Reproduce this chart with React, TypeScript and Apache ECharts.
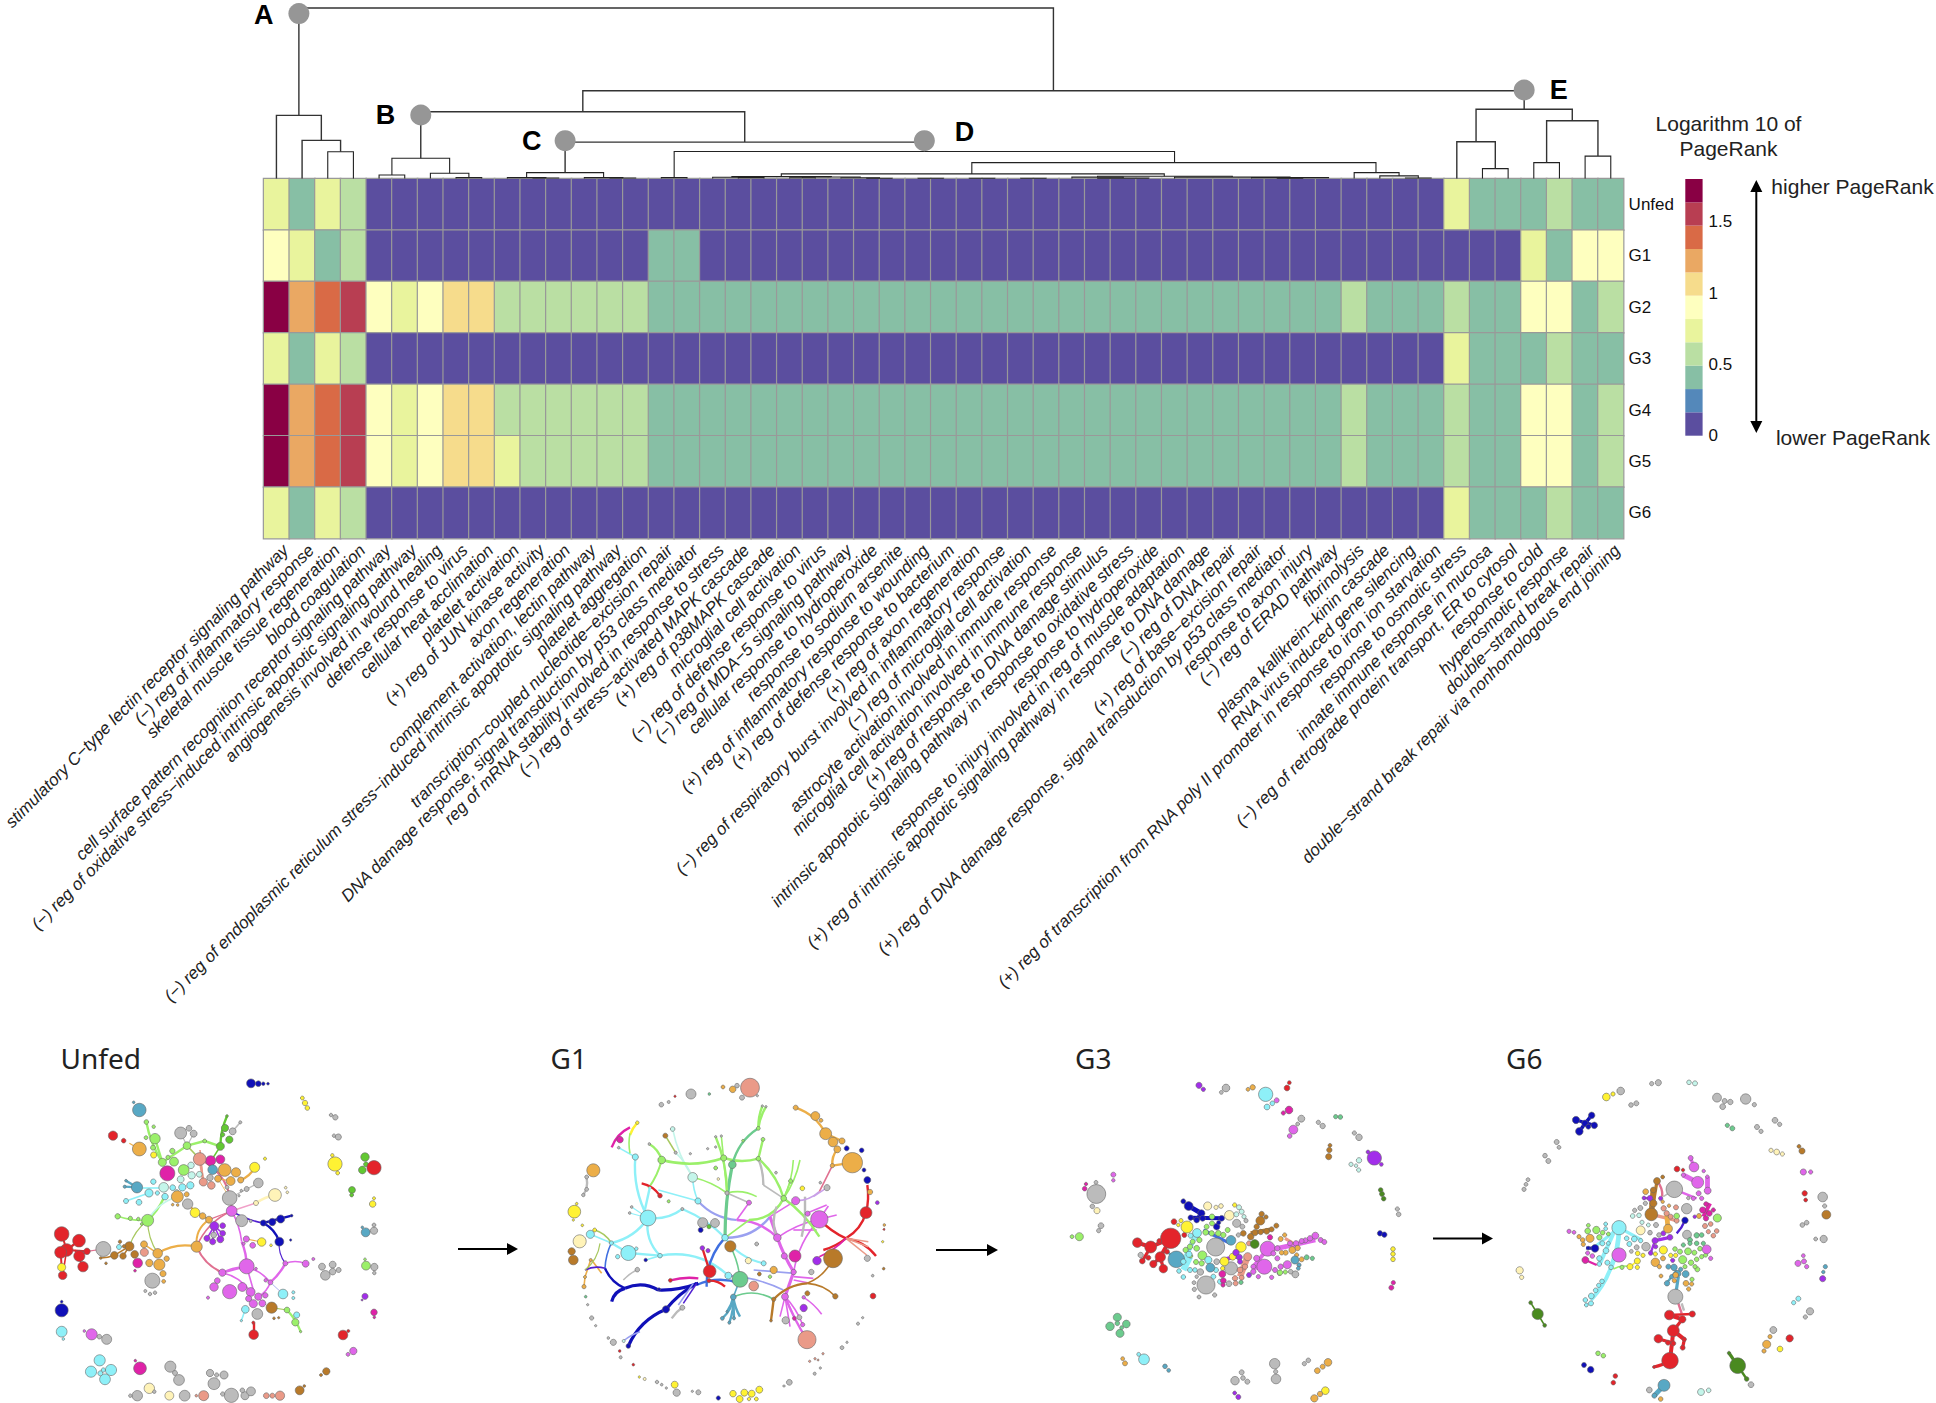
import React, { useEffect, useRef } from "react";
import * as echarts from "echarts";

const rowNames = ["Unfed", "G1", "G2", "G3", "G4", "G5", "G6"];
const termNames = [
  "stimulatory C−type lectin receptor signaling pathway",
  "(−) reg of inflammatory response",
  "skeletal muscle tissue regeneration",
  "blood coagulation",
  "cell surface pattern recognition receptor signaling pathway",
  "(−) reg of oxidative stress−induced intrinsic apoptotic signaling pathway",
  "angiogenesis involved in wound healing",
  "defense response to virus",
  "cellular heat acclimation",
  "platelet activation",
  "(+) reg of JUN kinase activity",
  "axon regeneration",
  "complement activation, lectin pathway",
  "(−) reg of endoplasmic reticulum stress−induced intrinsic apoptotic signaling pathway",
  "platelet aggregation",
  "transcription−coupled nucleotide−excision repair",
  "DNA damage response, signal transduction by p53 class mediator",
  "reg of mRNA stability involved in response to stress",
  "(−) reg of stress−activated MAPK cascade",
  "(+) reg of p38MAPK cascade",
  "microglial cell activation",
  "(−) reg of defense response to virus",
  "(−) reg of MDA−5 signaling pathway",
  "cellular response to hydroperoxide",
  "response to sodium arsenite",
  "(+) reg of inflammatory response to wounding",
  "(+) reg of defense response to bacterium",
  "(+) reg of axon regeneration",
  "(−) reg of respiratory burst involved in inflammatory response",
  "(−) reg of microglial cell activation",
  "astrocyte activation involved in immune response",
  "microglial cell activation involved in immune response",
  "(+) reg of response to DNA damage stimulus",
  "intrinsic apoptotic signaling pathway in response to oxidative stress",
  "response to hydroperoxide",
  "response to injury involved in reg of muscle adaptation",
  "(+) reg of intrinsic apoptotic signaling pathway in response to DNA damage",
  "(−) reg of DNA repair",
  "(+) reg of base−excision repair",
  "(+) reg of DNA damage response, signal transduction by p53 class mediator",
  "response to axon injury",
  "(−) reg of ERAD pathway",
  "fibrinolysis",
  "plasma kallikrein−kinin cascade",
  "RNA virus induced gene silencing",
  "(+) reg of transcription from RNA poly II promoter in response to iron ion starvation",
  "response to osmotic stress",
  "innate immune response in mucosa",
  "(−) reg of retrograde protein transport, ER to cytosol",
  "response to cold",
  "hyperosmotic response",
  "double−strand break repair",
  "double−strand break repair via nonhomologous end joining",
];

// heatmap values: log10 PageRank, read to the legend band of each cell
const a = 0.08, t = 0.41, l = 0.57, y = 0.74, p = 0.9, s = 1.06, o = 1.23, d = 1.39, h = 1.55, m = 1.72;
const rowUnfed = [y,t,y,l, a,a,a,a,a,a,a,a,a,a,a,a,a,a,a,a,a,a,a,a,a,a,a,a,a,a,a,a,a,a,a,a,a,a,a,a,a,a,a,a,a,a, y,t,t,t,l,t,t];
const rowG1 = [p,y,t,l, a,a,a,a,a,a,a,a,a,a,a, t,t, a,a,a,a,a,a,a,a,a,a,a,a,a,a,a,a,a,a,a,a,a,a,a,a,a,a,a,a,a,a,a,a, y,t,p,p];
const rowG2 = [m,o,d,h, p,y,p,s,s, l,l,l,l,l,l, t,t,t,t,t,t,t,t,t,t,t,t,t,t,t,t,t,t,t,t,t,t,t,t,t,t,t, l, t,t,t, l, t,t, p,p,t,l];
const rowG3 = [y,t,y,l, a,a,a,a,a,a,a,a,a,a,a,a,a,a,a,a,a,a,a,a,a,a,a,a,a,a,a,a,a,a,a,a,a,a,a,a,a,a,a,a,a,a, y,t,t,t,l,t,t];
const rowG4 = [m,o,d,h, p,y,p,s,s, l,l,l,l,l,l, t,t,t,t,t,t,t,t,t,t,t,t,t,t,t,t,t,t,t,t,t,t,t,t,t,t,t, l, t,t,t, l, t,t, p,p,t,l];
const rowG5 = [m,o,d,h, p,y,p,s,s, y,l,l,l,l,l, t,t,t,t,t,t,t,t,t,t,t,t,t,t,t,t,t,t,t,t,t,t,t,t,t,t,t, l, t,t,t, l, t,t, p,p,t,l];
const rowG6 = [y,t,y,l, a,a,a,a,a,a,a,a,a,a,a,a,a,a,a,a,a,a,a,a,a,a,a,a,a,a,a,a,a,a,a,a,a,a,a,a,a,a,a,a,a,a, y,t,t,t,l,t,t];
const heatRows = [rowUnfed, rowG1, rowG2, rowG3, rowG4, rowG5, rowG6];

const bandColors = ["#5B4E9F", "#5488BA", "#87BFA5", "#BADFA3", "#E9F49D", "#FEFFBF", "#F6DC8C", "#EAA863", "#D96A46", "#B83E52", "#890044"];
const bandEdges = [0, 0.164, 0.327, 0.491, 0.655, 0.818, 0.982, 1.145, 1.309, 1.473, 1.636, 1.8];
const barTicks = [0, 0.5, 1, 1.5];

// dendrogram merges: left x, left height, right x, right height, merge height
const mergesA = [[2.5,0,3.5,0,26.8],[1.5,0,3,26.8,38.2],[0.5,0,2.25,38.2,63.2]];
const mergesB = [[4.5,0,5.5,0,3.6],[7.5,0,8.5,0,1],[6.5,0,8,1,5.4],[5,3.6,7.25,5.4,20.4]];
const mergesC = [[10.5,0,11.5,0,0.6],[13.5,0,14.5,0,0.6],[12.5,0,14,0.6,1],[9.5,0,11,0.6,1],[10.25,1,13.25,1,6]];
const mergesD = [
  [15.5,0,16.5,0,1],[18.5,0,19.5,0,1],[17.5,0,19,1,1.4],[20.5,0,21.5,0,0.8],[23.5,0,24.5,0,0.4],[22.5,0,24,0.4,0.8],
  [21,0.8,23.25,0.8,1.6],[18.25,1.4,22.125,1.6,2],[25.5,0,26.5,0,0.3],[27.5,0,28.5,0,0.3],[29.5,0,30.5,0,0.3],[31.5,0,33.5,0.5,1.5],
  [32.5,0,34.5,0,0.5],[35.5,0,40,1,1.5],[38.5,0,41.5,0.4,1],[39.5,0,40.5,0,0.4],[32.5,1.5,37.75,1.5,2.4],
  [44.5,0,45.5,0,0.6],[43.5,0,45,0.6,2.7],[42.5,0,44.25,2.7,6],[20.175,2,35.1,2.4,4.7],[27.6,4.7,43.35,6,16],[16,1,35.5,16,27.1],
];
const mergesE = [[47.5,0,48.5,0,10],[46.5,0,48,10,36.8],[49.5,0,50.5,0,16],[51.5,0,52.5,0,22.5],[50,16,52,22.5,57.9],[47.25,36.8,51,57.9,69.3]];
const mergesTop = [[11.75,6,25.75,27.1,36.5],[6.125,20.4,18.75,36.5,66.8],[12.44,66.8,49.125,69.3,87.9],[1.375,63.2,30.78,87.9,170.6]];
const clusterNames = ["A", "B", "C", "D", "E"];
const clusterX = [1.375, 6.125, 11.75, 25.75, 49.125];
const clusterH = [165, 63.6, 37.9, 37.9, 88.6];

const nodeColors: Record<string, string> = {
  r: "#E3242B", b: "#1010B8", c: "#8EF0F8", g: "#9BF06A", m: "#E066EA", p: "#DF22A8", v: "#A22EEA", o: "#ECAE48",
  n: "#B87A2A", s: "#EA9A88", y: "#FFF233", k: "#BBBBBB", t: "#58A8C4", l: "#62C832", e: "#6CCB8E", q: "#C4F5EA",
  w: "#FFF3B8", d: "#4A8A20", i: "#E07090", h: "#9AA0F0", u: "#3F6FE0", z: "#A8C860", j: "#5020D0", x: "#C9A0E8", f: "#F0A0C8",
};

type N = [string, number, number, number];
type E = [string, number, number, number, number, number, number];

const unfedNodes: N[] = [
["b",633,40,22],["b",655,41,14],["b",670,41,8],["b",684,41,6],["y",787,84,9],["y",795,99,13],["y",802,114,11],["k",873,135,8],["k",886,142,13],["k",882,197,8],["k",895,201,15],
["y",885,282,36],["y",877,256,8],["y",893,309,9],["l",975,261,21],["l",967,300,19],["l",978,283,12],["r",1002,293,36],["l",936,360,17],["l",935,375,9],["y",998,402,16],["y",1002,385,7],
["t",977,487,22],["t",967,472,6],["k",1002,482,18],["k",1002,465,9],["g",978,587,22],["g",975,568,6],["k",1003,591,18],["k",1003,609,8],["v",975,679,15],["v",966,690,4],["p",1002,727,16],["p",1003,742,6],
["r",909,795,24],["r",925,783,7],["m",940,843,18],["m",924,853,9],["n",859,904,18],["n",843,915,7],["n",779,961,22],["n",793,948,6],["s",720,977,23],["s",697,977,12],["s",679,977,14],
["k",574,976,36],["k",615,977,20],["k",633,964,22],["k",607,961,11],["k",548,972,10],["s",491,977,25],["s",469,977,6],["k",434,977,27],["w",388,977,22],["k",292,977,26],["k",271,977,8],["w",328,955,26],["k",343,965,8],
["k",522,941,30],["k",510,909,18],["k",530,915,10],["k",552,915,20],["k",391,890,28],["k",405,909,12],["k",417,930,27],["p",300,895,32],["p",286,872,6],
["c",179,871,28],["c",153,905,28],["c",213,900,28],["c",195,928,27],["c",181,910,12],["c",190,900,10],["k",200,808,25],["k",178,800,11],["m",155,793,28],["m",133,783,6],["c",65,785,27],["c",70,807,6],["b",65,721,33],["b",65,695,6],
["r",65,492,37],["r",117,512,32],["r",80,540,32],["r",62,547,30],["r",118,558,28],["r",129,590,26],["r",68,616,21],["r",141,544,16],["y",65,592,20],["k",190,537,38],["c",237,531,12],
["n",268,529,23],["n",223,556,19],["n",284,553,19],["n",249,558,16],["n",240,515,8],["n",252,529,8],["n",198,580,6],["n",182,564,6],["s",313,547,20],["p",293,579,24],["p",285,602,6],
["o",312,523,17],["o",353,550,24],["o",328,579,18],["o",358,584,28],["o",380,566,13],["o",369,611,15],["o",371,634,9],["k",337,632,38],["k",345,668,8],["k",330,672,8],["k",316,663,7],
["g",323,451,30],["g",233,439,13],["g",271,445,10],["g",295,447,8],["g",305,462,6],["c",258,393,12],["c",297,397,14],["c",327,369,20],["c",352,369,10],["c",375,380,16],["c",340,335,13],["c",398,353,14],["c",427,352,18],["c",451,346,18],
["t",291,352,28],["t",258,332,6],["t",254,350,7],["q",371,352,24],["q",422,328,17],["q",455,316,18],["q",453,286,16],["q",478,313,14],["q",410,365,10],["o",412,380,30],["o",440,373,12],["o",398,404,6],["o",413,405,6],
["k",443,402,26],["y",465,428,24],["o",488,438,16],["o",507,449,17],["o",470,530,28],["v",523,468,22],["v",548,467,14],["v",548,490,14],["v",501,505,15],["v",518,515,15],["v",541,508,17],["k",521,495,14],
["m",575,423,27],["k",605,452,30],["k",632,453,7],["y",665,516,21],["y",693,526,6],["m",619,507,15],["m",611,521,7],["m",638,526,14],["m",620,589,38],["m",648,596,6],["m",547,608,18],["m",532,632,14],["m",522,651,21],["m",504,683,7],["m",569,665,36],["m",607,651,22],["m",632,666,22],["m",655,680,18],["m",676,676,13],["m",691,637,12],["m",677,631,8],["m",626,686,15],["m",640,701,20],["m",667,700,17],["m",736,580,12],["m",797,581,17],["m",820,567,7],
["k",846,590,17],["k",856,616,24],["k",878,584,17],["k",878,605,16],["k",896,600,12],["b",718,515,22],["b",752,510,5],["b",670,459,15],["b",697,456,18],["b",722,447,20],["b",755,437,6],["n",695,713,28],["n",702,745,6],["n",716,743,5],
["c",729,672,24],["c",760,667,7],["c",760,684,7],["c",616,718,19],["c",604,752,5],["g",741,720,14],["c",770,735,15],["g",766,757,18],["g",782,785,5],["k",652,732,27],["r",641,794,24],["r",640,758,7],
["o",572,333,22],["o",554,300,32],["o",588,307,23],["o",534,326,17],["o",602,330,15],["k",569,384,37],["k",655,339,24],["k",620,357,12],["k",604,362,6],["k",597,377,5],["k",561,352,9],["w",705,375,32],["w",648,399,12],["w",737,353,6],["w",742,367,6],["y",644,292,25],["y",675,266,7],
["l",541,229,20],["l",568,209,18],["l",555,174,18],["l",561,138,6],["l",548,194,10],["k",578,184,17],["k",601,157,7],["k",422,189,30],["k",447,175,14],["k",461,191,17],["g",441,227,19],["g",367,277,20],["g",402,275,22],["g",431,300,27],["g",397,243,13],["g",384,262,10],["g",494,213,9],["g",345,206,26],["g",318,203,9],["g",341,170,8],["g",339,233,12],["y",341,255,15],
["t",298,120,34],["t",281,97,6],["g",319,156,11],["o",298,237,35],["r",219,197,23],["r",251,212,11],["p",382,310,38],["p",512,272,25],["p",541,268,22],["s",479,267,32],["t",518,299,24],["s",490,336,20],["s",514,346,19],["k",510,323,16],
];
const unfedEdges: E[] = [
["r",65,492,80,540,0,2.5],["r",117,512,80,540,0,3],["r",80,540,141,544,0,2.5],["r",62,547,65,592,0,2.5],["r",80,540,68,616,0,2],["r",118,558,141,544,0,2.5],["r",129,590,105,540,0,2],["i",141,544,190,537,0,1.5],
["n",223,556,182,564,0.1,2],["n",223,556,268,529,0,2],["n",249,558,268,529,0,2],["o",353,550,312,523,0,2],["z",268,529,323,451,0.15,1.5],["z",353,550,323,451,0.15,1.5],["o",353,550,470,530,0.2,3],["o",470,530,507,449,0.3,2.5],["o",507,449,443,402,0.1,2.5],
["i",470,530,575,423,0.2,2],["i",470,530,547,608,-0.2,2.5],["i",479,267,575,423,0.3,2.5],["i",575,423,507,449,0,1.5],["f",575,423,648,399,0,2],["w",648,399,705,375,0.1,3],["j",575,423,670,459,-0.1,2],["b",670,459,718,515,0.2,3],["j",718,515,736,580,-0.2,1.5],["b",670,459,755,437,0,3],
["m",575,423,605,515,0.1,2],["m",620,589,605,515,-0.1,3],["m",620,589,547,608,0,2.5],["m",620,589,640,660,0,2],["m",547,608,632,666,0.2,2],["m",547,608,691,637,0.4,2],["m",736,580,691,637,0.1,3],["m",736,580,797,581,0.2,2],["m",691,637,655,680,0.2,2],["h",691,637,729,672,0,1],["g",741,720,782,785,0.1,3],["z",695,713,741,720,0,1.5],
["g",323,451,371,385,-0.1,3],["g",323,451,233,439,0.1,2],["q",323,451,412,380,0.2,2],["c",291,352,371,352,0,2],["c",258,393,327,369,0,2],["g",367,277,319,156,0.1,3],["g",367,277,345,206,0,3],["g",441,227,494,213,0,3],["g",494,213,541,229,0,3],["g",441,227,367,277,0,3],["l",541,229,561,138,0.1,3],["l",541,229,518,265,0,2],
["k",422,189,441,227,0,1.5],["k",461,191,441,227,0,1.5],["k",578,184,601,157,0,2],["o",644,292,602,330,0.2,3],["o",572,333,534,326,0,1.5],["o",298,237,268,220,0,1.5],["s",479,267,490,336,0,3],["z",441,227,479,267,0,2],["s",490,336,480,240,0,2],["k",569,384,655,339,0,1.5],["o",569,384,534,326,0,1],
["o",619,507,665,516,0,1.5],["r",640,758,641,794,0,3],["c",616,718,604,752,0,2],["t",258,332,291,352,0,3],["t",254,350,291,352,0,3],["v",523,468,501,505,0,2],["v",523,468,548,490,0,2],["v",523,468,518,515,0,2],["v",523,468,541,508,0,2],
];

const g1Nodes: N[] = [
["s",600,53,48],["o",548,58,16],["o",519,51,9],["k",561,47,11],["k",576,83,12],["k",622,77,5],["k",423,72,25],["e",478,72,6],["k",334,104,11],["k",356,96,7],["r",375,79,5],
["o",737,113,12],["o",796,138,22],["o",813,151,9],["o",827,191,30],["o",849,216,24],["o",876,213,15],["o",862,238,17],["o",907,278,52],["o",847,287,10],["b",890,235,12],["b",935,241,11],["b",942,300,9],["b",952,330,17],["o",960,366,13],
["r",948,428,30],["v",982,398,9],["o",1003,465,6],["r",1002,478,4],["y",998,515,5],["n",1001,596,6],["k",952,565,15],["k",968,617,6],["r",969,678,14],["k",924,761,7],["k",938,743,5],["k",876,833,9],["k",891,817,5],["k",794,911,7],["k",811,894,5],["k",718,937,14],["k",702,948,5],
["y",628,959,17],["y",605,971,17],["y",583,968,17],["y",549,971,16],["y",569,987,17],["y",597,987,8],["y",619,987,9],["b",505,984,10],["k",445,967,12],["k",427,964,5],["y",374,944,17],["k",380,968,18],["k",321,936,8],["k",335,944,6],["k",349,954,5],["y",268,921,5],["w",284,927,7],
["r",250,884,6],["k",212,862,7],["r",209,843,6],["k",190,817,15],["k",175,804,6],["k",125,744,10],["k",137,767,5],["e",107,680,6],["k",113,704,5],["o",130,301,33],["k",110,321,9],["k",100,375,8],["k",110,358,9],["y",73,425,32],["y",80,401,6],["y",70,450,5],
["c",121,493,20],["y",134,480,9],["y",97,466,6],["w",89,514,33],["n",65,544,18],["n",70,570,24],["o",102,650,10],["o",105,621,7],["o",122,570,7],["c",184,519,10],["c",235,549,38],["c",203,560,10],["c",259,536,8],["c",330,557,11],["b",287,570,8],["k",262,599,11],
["c",294,444,40],["k",245,411,6],["k",239,429,6],["c",256,261,15],["k",206,233,6],["p",210,209,16],["y",262,158,8],["r",330,377,11],["g",335,270,19],["k",298,222,6],["n",346,197,12],["q",368,177,11],["k",377,248,7],["q",428,322,24],["c",444,393,15],["g",356,394,7],["k",397,417,7],["k",421,251,5],
["g",521,264,15],["k",497,231,5],["e",547,284,19],["k",473,236,5],["k",514,198,5],["k",497,200,5],["g",497,294,9],["w",505,327,6],["g",579,212,6],["g",625,175,9],["k",637,108,5],["k",648,110,5],["g",639,208,9],["g",625,266,11],["k",531,369,10],
["m",597,398,12],["k",458,458,25],["k",495,459,22],["l",477,470,10],["b",452,480,12],["c",525,503,16],["n",541,529,28],["k",620,522,9],["v",457,534,11],["v",474,542,10],["r",479,604,32],["c",535,617,17],["e",570,628,40],["s",611,648,24],["t",550,681,14],["w",595,572,15],["c",641,580,12],["o",671,600,18],["n",628,612,9],["g",660,620,8],
["r",361,631,9],["r",477,632,10],["b",327,658,7],["b",348,718,18],["b",235,828,11],["q",221,813,7],["k",397,713,12],["t",517,745,9],["t",538,758,7],["t",552,745,7],["t",531,725,5],
["m",737,392,20],["g",701,385,14],["y",757,355,11],["k",831,353,15],["k",811,338,6],["m",808,448,44],["m",773,431,12],["m",682,503,19],["p",735,558,30],["m",703,558,15],["m",731,606,13],["v",801,572,21],["n",849,565,48],["k",784,606,13],["g",722,333,10],["k",678,308,6],
["m",705,680,17],["v",761,714,18],["k",707,751,18],["p",733,745,9],["m",758,764,10],["s",771,809,46],["n",856,679,13],["n",772,670,12],["n",671,688,10],["m",761,682,8],["k",748,742,12],["s",779,874,5],["s",795,866,5],["s",819,851,5],["s",804,870,4],["n",663,752,6],
];
const g1Edges: E[] = [
["c",294,444,184,519,0.2,3],["c",294,444,330,557,-0.25,3],["c",294,444,256,261,0.15,3],["c",294,444,397,417,-0.2,3],["c",397,417,525,503,0.1,3],["c",256,261,206,233,0,2],["c",294,444,245,411,0,1.5],["c",294,444,239,429,0,1.5],
["c",184,519,235,549,0,3],["c",235,549,330,557,0,3],["c",330,557,535,617,0.25,3],["c",525,503,641,580,-0.2,2.5],["c",444,393,428,322,0.1,2],["c",325,360,444,393,0,2],["q",368,177,428,322,-0.1,2],["q",377,248,428,322,0.1,2],
["h",444,393,560,450,-0.2,2.5],["h",525,503,660,440,-0.25,3],["h",611,600,735,610,0,2],["h",535,617,700,660,0.1,2],
["m",560,450,682,503,0.2,3],["m",597,398,560,450,0,2],["m",682,503,731,606,-0.05,4],["m",731,606,705,680,0,4],["m",731,606,808,448,0.15,2],["m",660,440,682,503,0,4],["m",682,503,808,448,0.1,2],["m",737,392,660,440,0,2],["m",705,680,771,809,-0.05,3],["m",705,680,758,764,0.1,2],["m",705,680,690,740,0,2],["m",705,680,720,770,0,2],["m",705,680,735,745,0,2],["m",761,682,815,733,0.1,2],["m",731,620,790,625,0,2],["m",731,630,780,640,0,2],["m",808,448,860,435,0,2],["m",808,448,835,408,0,2],["m",770,430,830,405,0,2],["m",730,480,800,480,0,2],
["g",335,270,521,264,-0.15,3],["g",298,222,335,270,0.2,3],["g",335,270,295,355,0.1,2.5],["g",428,322,531,369,0.1,2],["g",625,266,521,264,0.15,3],["e",547,284,625,175,0.2,3],["g",625,175,637,108,0.1,3],["g",625,175,648,110,0.1,3],["g",639,208,625,266,0,3],["e",547,284,525,503,-0.05,4],["g",497,200,531,369,0.1,3],["g",514,198,531,369,0,2],["g",625,266,701,385,0.15,3],["g",701,385,808,500,0.1,3],["g",701,385,597,450,0.3,3],["g",597,450,530,500,0,2],["g",722,333,701,385,0,2],["g",750,270,701,385,0.1,2],["g",730,270,701,385,0.1,2],
["k",625,266,640,345,0.1,3],["k",640,345,701,385,0,2],["k",680,410,680,500,-0.2,3],["k",765,450,755,500,0,3],["k",765,380,765,450,0,3],["g",531,369,620,380,0.2,2],["k",531,369,597,398,0,2],
["o",737,113,827,191,0.2,3],["o",827,191,876,213,0,3],["o",907,278,847,287,0,3],["o",847,287,862,238,0.2,3],["i",847,287,808,365,0,2],["x",808,365,737,392,0.2,2],["x",831,353,790,380,0,2],
["r",948,428,888,505,0.2,3],["r",888,505,808,448,0.1,3],["r",952,345,948,428,0.1,3],["r",888,505,978,558,0.2,3],["r",888,505,820,540,0.1,3],["s",888,505,950,555,0,2],["s",888,505,955,530,0,2],["s",888,505,955,515,0,2],["p",888,505,808,560,0.1,2],
["n",849,565,772,640,0.2,2],["n",671,688,772,640,0.2,3],["n",772,640,856,679,0.2,2],["n",671,688,663,752,0,3],["t",550,681,517,745,0.2,3],["t",550,681,538,758,0.1,3],["t",550,681,552,745,0,3],["t",550,681,531,725,0.1,3],["t",550,681,570,740,-0.1,3],["e",550,681,671,688,0.25,2],["t",550,681,570,628,0,2],["e",541,529,570,628,0.1,2],
["u",525,503,470,650,-0.2,3],["u",440,645,570,640,0.2,3],["r",479,604,457,534,0,3],["r",477,632,525,650,0.2,3],["p",361,631,445,625,0.1,3],["b",165,595,225,655,-0.2,3],["b",185,695,225,655,0.3,4],["b",225,655,325,660,0.25,4],["b",325,660,445,640,-0.1,4],["b",235,828,348,718,0.2,4],["b",348,718,440,640,0.1,4],
["h",220,813,270,785,0.1,2],["h",385,705,430,640,0,2],["j",400,700,440,640,0,2],["k",365,745,400,710,0.1,3],["c",121,493,184,519,0,2],["z",134,480,184,519,0.2,2],["u",165,595,184,519,0.1,2],["o",122,570,105,621,0,2],["o",105,621,102,650,0,2],["o",125,570,155,610,0,2],["j",105,600,165,595,0.2,2],["z",105,600,150,520,-0.2,1.5],
["k",220,630,262,599,0.1,2],["c",287,570,330,557,0,2],["p",185,232,240,172,0.2,3],["y",240,195,262,158,0.1,3],["g",240,250,240,190,0.1,2],["r",275,340,330,377,0.2,3],["c",300,350,280,440,0,3],["z",346,197,377,248,0,2],["k",110,325,100,375,0.2,3],
];

const g3Nodes: N[] = [
["v",477,46,15],["v",490,58,10],["k",558,54,19],["k",544,67,9],["o",638,52,13],["o",624,58,9],["c",677,73,36],["m",710,91,12],["c",697,100,11],["c",681,111,14],["r",748,38,9],["r",741,54,14],["p",747,120,19],["p",730,129,10],["e",887,140,10],["e",901,141,11],["k",784,146,17],["k",773,162,9],["m",760,179,22],["m",749,198,11],["k",835,157,10],["k",848,168,13],["k",943,189,10],["k",957,202,16],
["n",870,226,9],["n",868,240,13],["n",866,260,15],["v",1003,264,36],["v",984,246,9],["v",1024,283,9],["q",957,271,13],["q",933,283,10],["q",948,287,8],["q",956,300,10],["d",1022,360,11],["d",1026,372,12],["d",1031,386,11],["k",1072,417,10],["k",1076,433,11],["b",1020,490,13],["b",1033,494,13],["y",1059,537,11],["y",1059,552,11],["y",1059,568,11],["p",1060,638,10],["p",1054,653,12],
["m",220,314,12],["m",220,331,8],["p",138,342,8],["p",134,356,11],["k",168,337,9],["k",169,372,48],["k",157,409,11],["w",171,422,15],["k",183,467,14],["k",176,482,10],["g",118,500,20],["g",96,500,9],["e",232,742,20],["e",210,769,21],["e",259,762,19],["e",240,790,20],["e",232,760,11],["e",245,773,9],
["o",248,866,9],["o",255,880,12],["c",312,868,27],["c",296,853,9],["t",375,889,11],["t",386,901,9],["k",585,932,21],["k",605,907,12],["k",609,924,11],["k",622,935,12],["k",704,881,26],["k",707,905,10],["k",708,927,24],["k",805,871,11],["k",793,881,10],["o",864,877,19],["o",848,890,12],["o",832,902,14],["y",856,962,19],["o",840,972,13],["o",823,985,18],["v",584,969,9],["v",595,981,12],
["r",392,505,52],["r",332,531,30],["r",292,518,24],["r",361,561,26],["r",307,573,14],["r",340,582,18],["r",370,596,21],["r",325,563,12],["r",358,513,12],["r",381,545,12],["r",402,455,14],["r",433,495,12],["t",409,568,42],["k",302,555,13],["y",441,471,30],["y",423,452,10],["y",415,465,8],
["b",430,394,12],["b",446,408,22],["b",452,443,13],["b",484,430,18],["b",470,450,14],["b",488,445,14],["b",545,445,14],["b",530,470,16],["b",536,458,10],["w",503,408,20],["w",568,436,24],["w",528,412,10],["w",543,408,11],["y",584,405,10],["q",597,412,12],["q",605,425,12],["q",612,440,10],["q",589,433,12],
["g",516,440,13],["g",500,470,12],["g",516,460,12],["g",497,487,14],["g",515,490,13],["g",535,490,14],["g",550,495,13],["g",563,480,12],["c",471,489,22],["c",452,497,12],["g",478,510,13],["g",458,515,12],["g",437,540,13],["g",450,530,13],["g",470,535,14],["g",487,556,22],["g",452,558,10],["g",468,576,12],["g",485,580,13],
["c",447,553,15],["c",430,575,13],["c",417,603,11],["c",430,621,11],["c",450,600,12],["c",465,600,11],["c",505,570,18],["c",528,600,12],["c",540,635,12],["c",520,620,12],["t",511,593,22],["t",573,511,24],["k",527,531,46],["k",573,595,33],["k",498,645,46],["k",462,638,9],["k",463,658,10],["k",477,681,9],["k",524,675,10],["k",481,606,16],["k",470,620,8],["k",530,575,14],
["k",590,460,20],["k",607,470,12],["k",618,452,10],["k",595,495,10],["y",603,531,26],["y",578,560,17],["y",553,574,22],["y",548,595,10],["v",588,548,16],["v",598,562,15],["v",600,575,12],["v",627,615,12],["s",623,560,20],["s",627,520,12],["s",615,590,13],["s",600,600,14],["s",605,623,12],["s",585,625,13],["s",587,640,12],["p",547,612,17],["p",550,632,14],["p",549,645,10],["k",567,641,14],["e",603,637,10],
["d",644,522,22],["n",661,452,22],["n",665,432,13],["n",678,441,10],["n",650,470,13],["n",632,500,16],["n",610,490,14],["n",645,488,15],["n",662,486,13],["n",680,484,14],["n",695,478,12],["n",709,467,12],["o",722,507,12],["o",734,495,10],["p",690,502,13],
["m",683,536,38],["m",673,590,38],["m",826,497,17],["m",810,505,13],["m",842,510,12],["m",853,516,12],["m",796,511,12],["m",785,513,12],["m",768,520,13],["m",750,520,12],["m",712,535,13],["m",700,550,12],["m",650,565,15],["m",640,590,12],["m",640,605,13],["m",655,620,10],["m",695,622,10],["m",712,565,12],["m",722,590,13],["m",705,600,12],["m",718,610,10],["m",742,584,20],
["o",757,540,17],["o",773,534,13],["o",737,548,12],["o",725,548,11],["o",785,568,12],["o",770,555,10],["t",765,570,20],["t",777,585,10],["t",775,595,9],["e",800,562,12],["e",817,565,10],["g",720,608,13],["g",736,606,10],["k",766,613,17],["k",752,605,11],
];
const g3Edges: E[] = [
["r",392,505,332,531,0,5],["r",332,531,292,518,0,5],["r",332,531,307,573,0,4],["r",392,505,361,561,0,5],["r",361,561,340,582,0,4],["r",361,561,370,596,0,4],["t",381,545,409,568,0,3],["u",490,480,570,520,0,4],["b",446,408,484,430,0,6],["b",484,430,470,450,0,5],["b",452,443,545,445,0,5],
["m",683,536,640,590,0,5],["m",673,590,640,590,0,7],["m",712,535,826,510,0,6],["s",735,505,760,520,0,4],["c",470,490,430,575,0,6],["c",430,600,450,560,0,8],["v",590,560,545,570,0,5],["n",632,490,695,478,0,5],["s",623,560,600,620,0,8],
];

const g6Nodes: N[] = [
["k",455,41,10],["k",475,38,15],["q",567,37,11],["q",585,40,12],["y",319,81,19],["y",339,72,10],["k",362,63,19],["k",393,105,11],["k",409,100,12],["k",651,83,22],["k",674,93,12],["k",691,96,13],["k",668,110,14],["k",737,87,26],["k",763,104,10],["e",682,166,10],["e",697,175,12],["k",825,151,14],["k",839,163,10],["k",771,171,12],["k",783,184,10],["w",813,241,10],["w",830,246,14],["w",847,252,10],["n",897,229,9],["n",906,243,15],
["b",275,136,16],["b",228,150,18],["b",238,184,19],["b",283,166,16],["b",255,160,16],["b",265,170,12],["k",170,216,12],["k",177,232,9],["k",135,257,11],["k",145,273,12],["k",84,329,9],["k",78,343,9],["k",72,358,10],["m",910,306,15],["m",932,306,10],["r",914,370,13],["r",917,390,9],["k",968,381,24],["k",974,408,10],["n",979,434,22],["k",907,465,11],["k",920,458,11],["k",947,507,9],["k",971,507,18],
["m",910,557,9],["m",912,574,12],["m",894,580,15],["m",920,590,10],["t",976,590,10],["t",970,606,8],["v",968,626,15],["c",895,686,12],["c",881,698,10],["k",930,724,18],["k",916,741,10],["k",820,780,17],["o",810,800,10],["o",800,823,20],["o",792,843,10],["r",869,805,18],["y",840,837,14],["d",713,887,40],["d",687,849,8],["d",740,927,11],["k",753,944,14],
["q",603,966,17],["q",626,961,11],["t",492,946,30],["k",448,960,14],["t",463,977,12],["o",482,987,11],["r",346,918,11],["r",340,938,11],["b",252,885,12],["b",272,899,16],["g",294,850,11],["g",310,857,11],["d",113,732,28],["d",92,698,9],["d",134,766,9],["w",59,601,18],["w",65,622,10],
["k",526,680,38],["r",508,735,24],["r",547,748,18],["r",577,732,15],["r",520,782,30],["r",475,806,21],["r",504,818,12],["r",520,820,12],["r",548,833,12],["r",553,808,10],["r",510,872,42],["r",462,891,7],
["m",572,264,12],["m",582,291,24],["m",593,337,30],["m",623,362,17],["m",622,320,8],["m",611,303,8],["m",550,315,10],["r",531,297,14],["r",549,300,8],["k",523,358,42],["n",471,333,17],["n",488,321,9],["o",437,365,14],["n",460,360,14],["v",432,384,9],["v",450,385,14],["v",482,385,10],["n",454,433,32],["n",460,400,18],
["k",404,421,10],["k",421,414,12],["k",436,400,10],["q",398,438,11],["q",417,436,11],["q",426,457,10],["q",445,465,9],["c",357,473,36],["c",317,462,9],["c",317,476,9],["g",265,466,9],["g",263,483,14],["g",289,480,18],["g",308,488,11],["g",325,492,9],["m",207,484,10],["m",222,487,9],
["o",270,505,20],["o",248,510,11],["o",250,523,10],["g",298,502,13],["o",237,500,10],["b",285,535,19],["b",265,534,8],["c",307,520,12],["c",318,542,14],["c",325,520,9],["c",298,565,13],["c",298,582,11],["c",322,578,12],["c",333,592,11],["c",380,505,11],["c",403,507,14],["c",422,512,10],["c",388,522,12],["m",357,555,36],["m",263,549,10],["m",277,558,11],["p",256,570,17],["w",422,481,22],
["c",306,634,11],["c",296,646,10],["c",287,661,11],["c",274,678,14],["c",256,690,11],["c",273,700,12],["c",259,705,9],["g",366,592,10],["y",390,590,15],["y",412,573,15],["y",412,592,10],["y",429,556,10],["y",413,550,11],["k",438,530,21],["k",394,544,9],["k",410,532,12],
["v",465,512,15],["v",490,490,12],["v",510,502,14],["v",452,549,11],["v",467,530,10],["k",450,488,11],["k",477,495,11],["k",468,465,12],["y",490,540,20],["y",466,552,10],["y",512,556,10],["y",527,556,10],["k",561,494,22],["k",560,416,26],["s",491,415,13],["s",500,430,13],["s",528,412,12],["s",512,440,12],["s",530,452,12],["o",504,476,22],["o",507,407,8],["o",488,395,8],["g",530,438,14],["g",652,444,20],
["m",580,385,10],["m",596,370,12],["m",605,385,10],["k",565,384,8],["p",618,402,11],["p",608,420,15],["p",640,420,10],["p",628,430,14],["p",618,445,13],["b",555,451,16],["o",597,438,12],["v",584,440,8],["s",615,468,12],["s",632,462,11],["s",650,483,11],["s",640,497,11],["s",625,485,10],
["e",590,496,13],["e",605,495,11],["e",550,525,10],["e",570,510,12],["e",590,520,11],["e",610,520,10],["e",570,520,10],["g",564,544,17],["g",548,569,20],["g",583,548,12],["g",600,536,11],["g",525,537,11],["g",540,545,12],["g",573,578,13],["g",590,568,11],["g",605,560,10],["g",617,555,10],["g",592,598,12],["g",555,590,10],["g",585,590,10],["m",620,538,22],["m",632,565,10],["v",518,571,10],
["o",466,577,21],["o",489,565,12],["o",478,590,10],["o",483,618,9],["o",558,640,14],["o",575,642,10],["o",566,657,10],["t",505,590,12],["t",522,592,16],["t",557,612,17],["t",533,611,16],["t",515,620,10],["t",501,640,13],["t",542,598,10],["o",527,615,14],["o",523,632,10],["g",576,628,10],
];
const g6Edges: E[] = [
["c",357,473,333,592,0.1,6],["c",340,490,300,580,0,5],["c",357,473,425,510,0,4],["c",333,592,273,690,0.1,5],["g",340,597,390,590,0.2,2],["t",526,680,535,620,0,4],["i",535,700,545,730,0,3],["k",545,700,552,722,0,3],["r",508,735,547,748,0,5],["r",547,748,520,782,0,4],["r",520,782,510,872,0,5],["r",520,782,553,808,0,5],["r",553,808,548,833,0,4],["r",475,806,520,820,0,4],["r",510,872,462,891,0.1,4],["r",508,735,577,732,0,3],
["d",113,732,92,698,0,2],["d",113,732,134,766,0,2],["d",713,887,687,849,0,4],["d",713,887,740,927,0,3],["t",492,946,463,977,0,6],["m",582,291,572,264,0,4],["m",593,337,550,315,0,6],["m",623,362,622,320,0,6],["b",275,136,238,184,0,4],["b",228,150,283,166,0,4],["b",255,160,275,136,0,4],["b",238,184,255,160,0,4],["v",450,385,432,384,0,3],
["n",454,433,460,360,0,7],["n",471,333,460,400,0,4],["i",471,333,487,380,0.2,3],["k",523,358,490,380,0,2],["m",523,358,590,385,0,3],["j",555,451,530,490,0.1,3],["v",465,512,510,502,0,4],["v",465,512,452,549,0,3],["s",454,433,530,452,0,4],["o",500,430,504,476,0,6],["c",357,473,285,530,0,4],["p",256,570,290,585,0,3],["y",412,573,390,590,0,2],["p",630,400,610,440,0,5],["t",530,600,500,640,0,3],["b",258,534,285,535,0,4],
];

const panelTitles = ["Unfed", "G1", "G3", "G6"];
const F = "'Liberation Sans', Arial, sans-serif";
const panelBoxes = [[40, 360], [550, 360], [1040, 400], [1500, 360]];
const panelNodes = [unfedNodes, g1Nodes, g3Nodes, g6Nodes];
const panelEdges = [unfedEdges, g1Edges, g3Edges, g6Edges];

function arrow(x1: number, x2: number, yy: number) {
  return [
    { type: "line", shape: { x1, y1: yy, x2: x2 - 8, y2: yy }, style: { stroke: "#000", lineWidth: 2 } },
    { type: "polygon", shape: { points: [[x2 - 11, yy - 6], [x2, yy], [x2 - 11, yy + 6]] }, style: { fill: "#000" } },
  ];
}

function buildOption() {
  const grids: any[] = [
    { left: 263.6, top: 178.6, width: 1360, height: 360 },
    { left: 263.6, top: 0, width: 1360, height: 178.6 },
    { left: 1685.3, top: 179, width: 17.3, height: 256.7 },
    { left: 270.1, top: 178.6, width: 1360, height: 360 },
  ];
  const xAxes: any[] = [
    { type: "category", data: termNames, gridIndex: 0, axisLine: { show: false }, axisTick: { show: false }, splitLine: { show: false }, axisLabel: { show: false } },
    { type: "value", gridIndex: 1, min: 0, max: 53, show: false },
    { type: "category", data: ["bar"], gridIndex: 2, show: false },
    { type: "category", data: termNames, gridIndex: 3, axisLine: { show: false }, axisTick: { show: false }, splitLine: { show: false },
      axisLabel: { interval: 0, rotate: 45, margin: 9, fontFamily: F, fontStyle: "italic", fontSize: 17, color: "#222" } },
  ];
  const yAxes: any[] = [
    { type: "category", data: rowNames, inverse: true, gridIndex: 0, position: "right", axisLine: { show: false }, axisTick: { show: false }, splitLine: { show: false },
      axisLabel: { margin: 5, fontFamily: F, fontSize: 17, color: "#111" } },
    { type: "value", gridIndex: 1, min: 0, max: 178.6, show: false },
    { type: "value", gridIndex: 2, min: 0, max: 1.8, position: "right", axisLine: { show: false }, axisTick: { show: false }, splitLine: { show: false },
      axisLabel: { margin: 6, fontFamily: F, fontSize: 17, color: "#111", customValues: barTicks } },
    { type: "value", gridIndex: 3, show: false },
  ];

  const heatData: number[][] = [];
  heatRows.forEach((row, r) => row.forEach((v, c) => heatData.push([c, r, v])));

  const merges = [...mergesA, ...mergesB, ...mergesC, ...mergesD, ...mergesE, ...mergesTop];
  const series: any[] = [
    { type: "heatmap", xAxisIndex: 0, yAxisIndex: 0, data: heatData, itemStyle: { borderColor: "#999", borderWidth: 1.2 }, emphasis: { disabled: true } },
    { type: "custom", xAxisIndex: 1, yAxisIndex: 1, data: merges, clip: false, encode: { x: [0, 2], y: [1, 3, 4] },
      renderItem: (_: any, api: any) => {
        const lx = api.value(0), lh = api.value(1), rx = api.value(2), rh = api.value(3), top = api.value(4);
        return { type: "polyline", shape: { points: [api.coord([lx, lh]), api.coord([lx, top]), api.coord([rx, top]), api.coord([rx, rh])] },
          style: { stroke: top > 30 ? "#333" : "#222", fill: "none", lineWidth: top > 30 ? 1.4 : 1.1 } };
      } },
    { type: "scatter", xAxisIndex: 1, yAxisIndex: 1, clip: false, z: 5, symbolSize: 21, itemStyle: { color: "#969696", opacity: 1 },
      data: clusterNames.map((n, i) => {
        const labelPos = [
          { position: "left", distance: 15, offset: [0, 1.5] }, { position: "left", distance: 15 }, { position: "left", distance: 13 },
          { position: "right", distance: 20, offset: [0, -9] }, { position: "right", distance: 15 },
        ][i];
        return { value: [clusterX[i], clusterH[i]], name: n, label: { show: true, formatter: n, fontFamily: F, fontWeight: "bold", fontSize: 27, color: "#000", ...labelPos } };
      }) },
  ];
  bandColors.forEach((c, i) => {
    series.push({ type: "bar", xAxisIndex: 2, yAxisIndex: 2, stack: "bar", barWidth: "100%", data: [bandEdges[i + 1] - bandEdges[i]], itemStyle: { color: c } });
  });

  panelBoxes.forEach(([left, w], i) => {
    const gi = grids.length;
    grids.push({ left, top: 1070, width: w, height: 333 });
    xAxes.push({ type: "value", gridIndex: gi, min: 0, max: w * 3, show: false });
    yAxes.push({ type: "value", gridIndex: gi, min: 0, max: 999, inverse: true, show: false });
    series.push({ type: "lines", coordinateSystem: "cartesian2d", xAxisIndex: gi, yAxisIndex: gi, z: 3, silent: true,
      data: panelEdges[i].map(([c, x1, y1, x2, y2, cv, wd]) => ({ coords: [[x1, y1], [x2, y2]], lineStyle: { color: nodeColors[c], width: wd * 0.8, curveness: cv, opacity: 1 } })) });
    series.push({ type: "scatter", xAxisIndex: gi, yAxisIndex: gi, z: 4, clip: false, silent: true,
      symbolSize: (v: number[]) => (v[2] / 3) * 1.15 + 0.4,
      data: panelNodes[i].map(([c, x, yy, sz]) => ({ value: [x, yy, sz], itemStyle: { color: nodeColors[c], borderColor: "#666", borderWidth: 0.6, opacity: 1 } })) });
  });

  const titleX = [60.5, 550.5, 1075, 1506];
  const font = `21px ${F}`;
  const graphic: any[] = [
    { type: "text", x: 1728.5, y: 123, style: { text: "Logarithm 10 of", font, fill: "#222", align: "center", verticalAlign: "middle" } },
    { type: "text", x: 1728.5, y: 148, style: { text: "PageRank", font, fill: "#222", align: "center", verticalAlign: "middle" } },
    { type: "text", x: 1852.5, y: 186, style: { text: "higher PageRank", font, fill: "#222", align: "center", verticalAlign: "middle" } },
    { type: "text", x: 1853, y: 437.5, style: { text: "lower PageRank", font, fill: "#222", align: "center", verticalAlign: "middle" } },
    { type: "line", shape: { x1: 1756.3, y1: 188, x2: 1756.3, y2: 424 }, style: { stroke: "#000", lineWidth: 2 } },
    { type: "polygon", shape: { points: [[1750.3, 192], [1756.3, 180], [1762.3, 192]] }, style: { fill: "#000" } },
    { type: "polygon", shape: { points: [[1750.3, 421], [1756.3, 433], [1762.3, 421]] }, style: { fill: "#000" } },
    ...panelTitles.map((tt, i) => ({ type: "text", x: titleX[i], y: 1058, style: { text: tt, font: `28px 'Noto Sans', sans-serif`, fill: "#222", align: "left", verticalAlign: "middle" } })),
    ...arrow(458, 518, 1249),
    ...arrow(936, 998, 1250),
    ...arrow(1433, 1493, 1238.5),
  ];

  return {
    animation: false,
    backgroundColor: "#fff",
    grid: grids,
    xAxis: xAxes,
    yAxis: yAxes,
    visualMap: {
      show: false, type: "piecewise", seriesIndex: 0, dimension: 2,
      pieces: bandColors.map((c, i) => ({ min: bandEdges[i], max: bandEdges[i + 1], color: c })),
    },
    series,
    graphic,
  };
}

export default function App() {
  const ref = useRef<HTMLDivElement>(null);
  useEffect(() => {
    const chart = echarts.init(ref.current!, undefined, { renderer: "svg" });
    chart.setOption(buildOption() as any);
    return () => chart.dispose();
  }, []);
  return <div ref={ref} style={{ position: "absolute", left: 0, top: 0, width: 1936, height: 1403 }} />;
}
